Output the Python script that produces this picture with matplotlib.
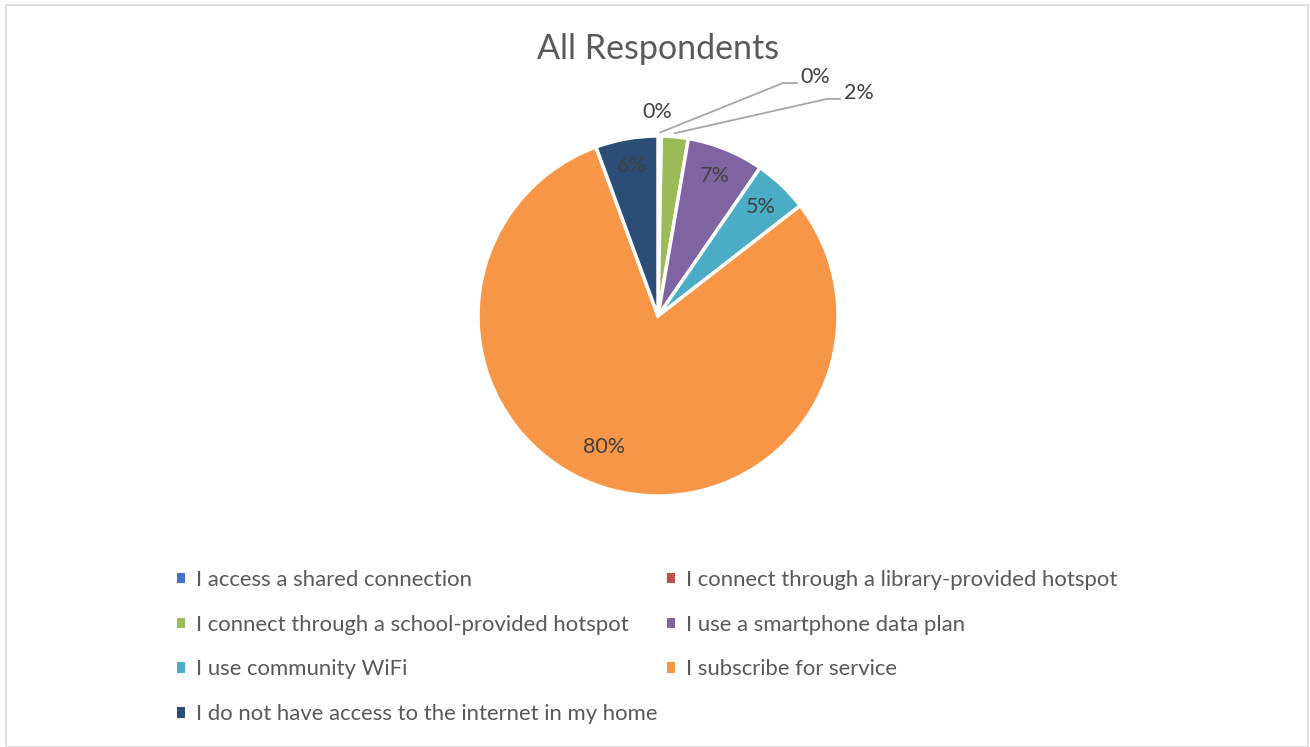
import numpy as np
import matplotlib.pyplot as plt
from matplotlib.patches import Rectangle

plt.rcParams['font.family'] = ['Lato', 'DejaVu Sans']

# answers, in the order they are drawn (clockwise from 12 o'clock)
categories = [
    'I access a shared connection',
    'I connect through a library-provided hotspot',
    'I connect through a school-provided hotspot',
    'I use a smartphone data plan',
    'I use community WiFi',
    'I subscribe for service',
    'I do not have access to the internet in my home',
]
shares = [0.1, 0.2, 2.4, 6.9, 4.9, 79.9, 5.6]
colors = ['#4472c4', '#c0504d', '#9bbb59', '#8064a2', '#4bacc6', '#f79646', '#2c4d75']

W, H = 1310, 747
fig = plt.figure(figsize=(W / 100, H / 100), dpi=100)

# light frame round the chart area
fig.patches.append(Rectangle((6 / W, 0), 1302 / W, (H - 5) / H, transform=fig.transFigure,
                             fill=False, edgecolor='#d9d9d9', linewidth=1.2))

cx, cy, R = 658, 316, 180
ax = fig.add_axes([(cx - R) / W, (H - cy - R) / H, 2 * R / W, 2 * R / H])
wedges, _ = ax.pie(shares, colors=colors, startangle=90, counterclock=False, radius=1,
                   wedgeprops=dict(edgecolor='white', linewidth=2.5))
ax.set_xlim(-1, 1)
ax.set_ylim(-1, 1)
ax.set_aspect('equal')
ax.axis('off')

lab_color = '#404040'
lab_size = 15.5
# inside labels: (radius fraction, angle shift in degrees) per slice
inside = {3: (0.84, 0), 4: (0.83, 0), 5: (0.787, -6.5), 6: (0.846, 0)}
for i, w in enumerate(wedges):
    if i not in inside:
        continue
    r, shift = inside[i]
    mid = np.deg2rad((w.theta1 + w.theta2) / 2 + shift)
    ax.text(r * np.cos(mid), r * np.sin(mid), '%d%%' % round(shares[i]),
            ha='center', va='center', fontsize=lab_size, color=lab_color)

# small slices get labels outside, two of them with leader lines
ax.text(-0.006, 1.135, '%d%%' % round(shares[0]), ha='center', va='center',
        fontsize=lab_size, color=lab_color, clip_on=False)
for i, (ex, ey, tx) in {1: (0.694, 1.294, 0.772), 2: (0.939, 1.206, 1.011)}.items():
    w = wedges[i]
    mid = np.deg2rad((w.theta1 + w.theta2) / 2)
    sx, sy = 1.0 * np.cos(mid), 1.0 * np.sin(mid) + 0.02
    ax.plot([sx, ex, tx], [sy, ey, ey], color='#a6a6a6', linewidth=1.3, clip_on=False)
    ax.text(tx + 0.02, ey + 0.035, '%d%%' % round(shares[i]), ha='left', va='center',
            fontsize=lab_size, color=lab_color, clip_on=False)

fig.text(cx / W, 1 - 49 / H, 'All Respondents', ha='center', va='center',
         fontsize=24.5, color='#595959')

# legend reads row by row, matplotlib fills columns first
order = [0, 2, 4, 6, 1, 3, 5]
leg = fig.legend([wedges[i] for i in order], [categories[i] for i in order],
                 ncol=2, loc='upper left', bbox_to_anchor=(177 / W, 1 - 570 / H),
                 borderpad=0, borderaxespad=0, frameon=False, fontsize=15.9,
                 handlelength=0.36, handleheight=0.36, handletextpad=0.5,
                 columnspacing=0.45, labelspacing=1.12, labelcolor='#595959')
for h in leg.legend_handles:
    h.set_edgecolor('none')

fig.savefig('out.png', dpi=100)
